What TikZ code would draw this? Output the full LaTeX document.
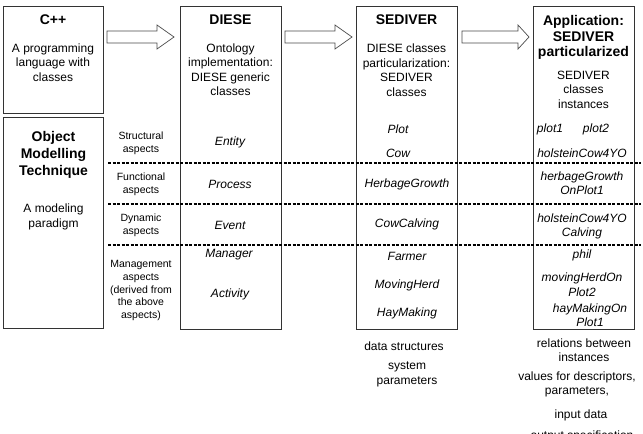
\documentclass[tikz,border=0pt]{standalone}
\usepackage{fontspec}
\setmainfont{Liberation Sans}
\begin{document}
\begin{tikzpicture}[x=1pt,y=-1pt,
  box/.style={draw=black!80, line width=0.8pt},
  ttl/.style={font=\fontsize{14}{16}\selectfont\bfseries, align=center, inner sep=0pt},
  txt/.style={font=\fontsize{12}{14.5}\selectfont, align=center, inner sep=0pt},
  sml/.style={font=\fontsize{10.5}{12.6}\selectfont, align=center, inner sep=0pt},
  itl/.style={font=\fontsize{12}{14.5}\selectfont\itshape, align=center, inner sep=0pt},
  sep/.style={dash pattern=on 3pt off 1.5pt, line width=1.2pt, draw=black},
  barrow/.style={draw=black!70, fill=white, line width=0.7pt}]
\useasboundingbox (0,0) rectangle (643,434);
\fill[white] (0,0) rectangle (643,434);
\clip (0,0) rectangle (643,434);

% boxes
\draw[box] (3,6) rectangle (103,113);
\draw[box] (3,117) rectangle (103,328);
\draw[box] (180,6) rectangle (281,329);
\draw[box] (356,6) rectangle (457,329);
\draw[box] (533,6) rectangle (634,329);

% dashed separators
\coordinate (s1a) at (108,163); \coordinate (s1b) at (641,163);
\coordinate (s2a) at (108,204); \coordinate (s2b) at (641,204);
\coordinate (s3a) at (108,245); \coordinate (s3b) at (641,245);
\draw[sep] (s1a) -- (s1b);
\draw[sep] (s2a) -- (s2b);
\draw[sep] (s3a) -- (s3b);

% block arrows
\foreach \xa/\xb/\xc in {107/157/174, 285/335/352, 462/518/529}{
  \draw[barrow] (\xa,31) -- (\xb,31) -- (\xb,25) -- (\xc,37) -- (\xb,49) -- (\xb,43) -- (\xa,43) -- cycle;
}

% C++ box
\node[ttl] (cpp) at (53,20) {C++};
\node[txt] (cppd) at (53,62.5) {A programming\\language with\\classes};

% OMT box
\node[ttl, font=\fontsize{14}{17}\selectfont\bfseries] (omt) at (53.5,155) {Object\\Modelling\\Technique};
\node[txt, font=\fontsize{12}{15}\selectfont] (omtd) at (53.5,216.5) {A modeling\\paradigm};

% aspects
\node[sml] (a1) at (141,143) {Structural\\aspects};
\node[sml] (a2) at (141,184.5) {Functional\\aspects};
\node[sml] (a3) at (141,225.5) {Dynamic\\aspects};
\node[sml] (a4) at (141,290.5) {Management\\aspects\\(derived from\\the above\\aspects)};

% DIESE
\node[ttl] (diese) at (230.5,20) {DIESE};
\node[txt] (dieseD) at (230.5,69.5) {Ontology\\implementation:\\DIESE generic\\classes};
\node[itl] (d1) at (230,142) {Entity};
\node[itl] (d2) at (230,184) {Process};
\node[itl] (d3) at (230,225) {Event};
\node[itl] (d4) at (229,255) {Manager};
\node[itl] (d5) at (230,294) {Activity};

% SEDIVER
\node[ttl] (sed) at (406.5,20) {SEDIVER};
\node[txt] (sedD) at (406.5,70) {DIESE classes\\particularization:\\SEDIVER\\classes};
\node[itl] (s1) at (398,129) {Plot};
\node[itl] (s2) at (398,153) {Cow};
\node[itl] (s3) at (407,184) {HerbageGrowth};
\node[itl] (s4) at (407,224) {CowCalving};
\node[itl] (s5) at (407,256) {Farmer};
\node[itl] (s6) at (407,285) {MovingHerd};
\node[itl] (s7) at (407,313) {HayMaking};
\node[txt] (b1) at (404,346) {data structures};
\node[txt] (b2) at (407,374.5) {system\\parameters};

% Application
\node[ttl, font=\fontsize{14}{15.5}\selectfont\bfseries] (app) at (583.5,37.5) {Application:\\SEDIVER\\particularized};
\node[txt] (appD) at (583.5,89.5) {SEDIVER\\classes\\instances};
\node[itl] (p1) at (550,129) {plot1};
\node[itl] (p2) at (596,129) {plot2};
\node[itl] (p3) at (582,153) {holsteinCow4YO};
\node[itl] (p4) at (582,183) {herbageGrowth\\OnPlot1};
\node[itl] (p5) at (582,226.5) {holsteinCow4YO\\Calving};
\node[itl] (p6) at (582,255) {phil};
\node[itl] (p7) at (582,284.5) {movingHerdOn\\Plot2};
\node[itl] (p8) at (590,315) {hayMakingOn\\Plot1};
\node[txt] (c1) at (584,350) {relations between\\instances};
\node[txt] (c2) at (577,384.5) {values for descriptors,\\parameters,};
\node[txt] (c3) at (581,415) {input data};
\node[txt] (c4) at (582,436) {output specification};
\end{tikzpicture}
\end{document}
